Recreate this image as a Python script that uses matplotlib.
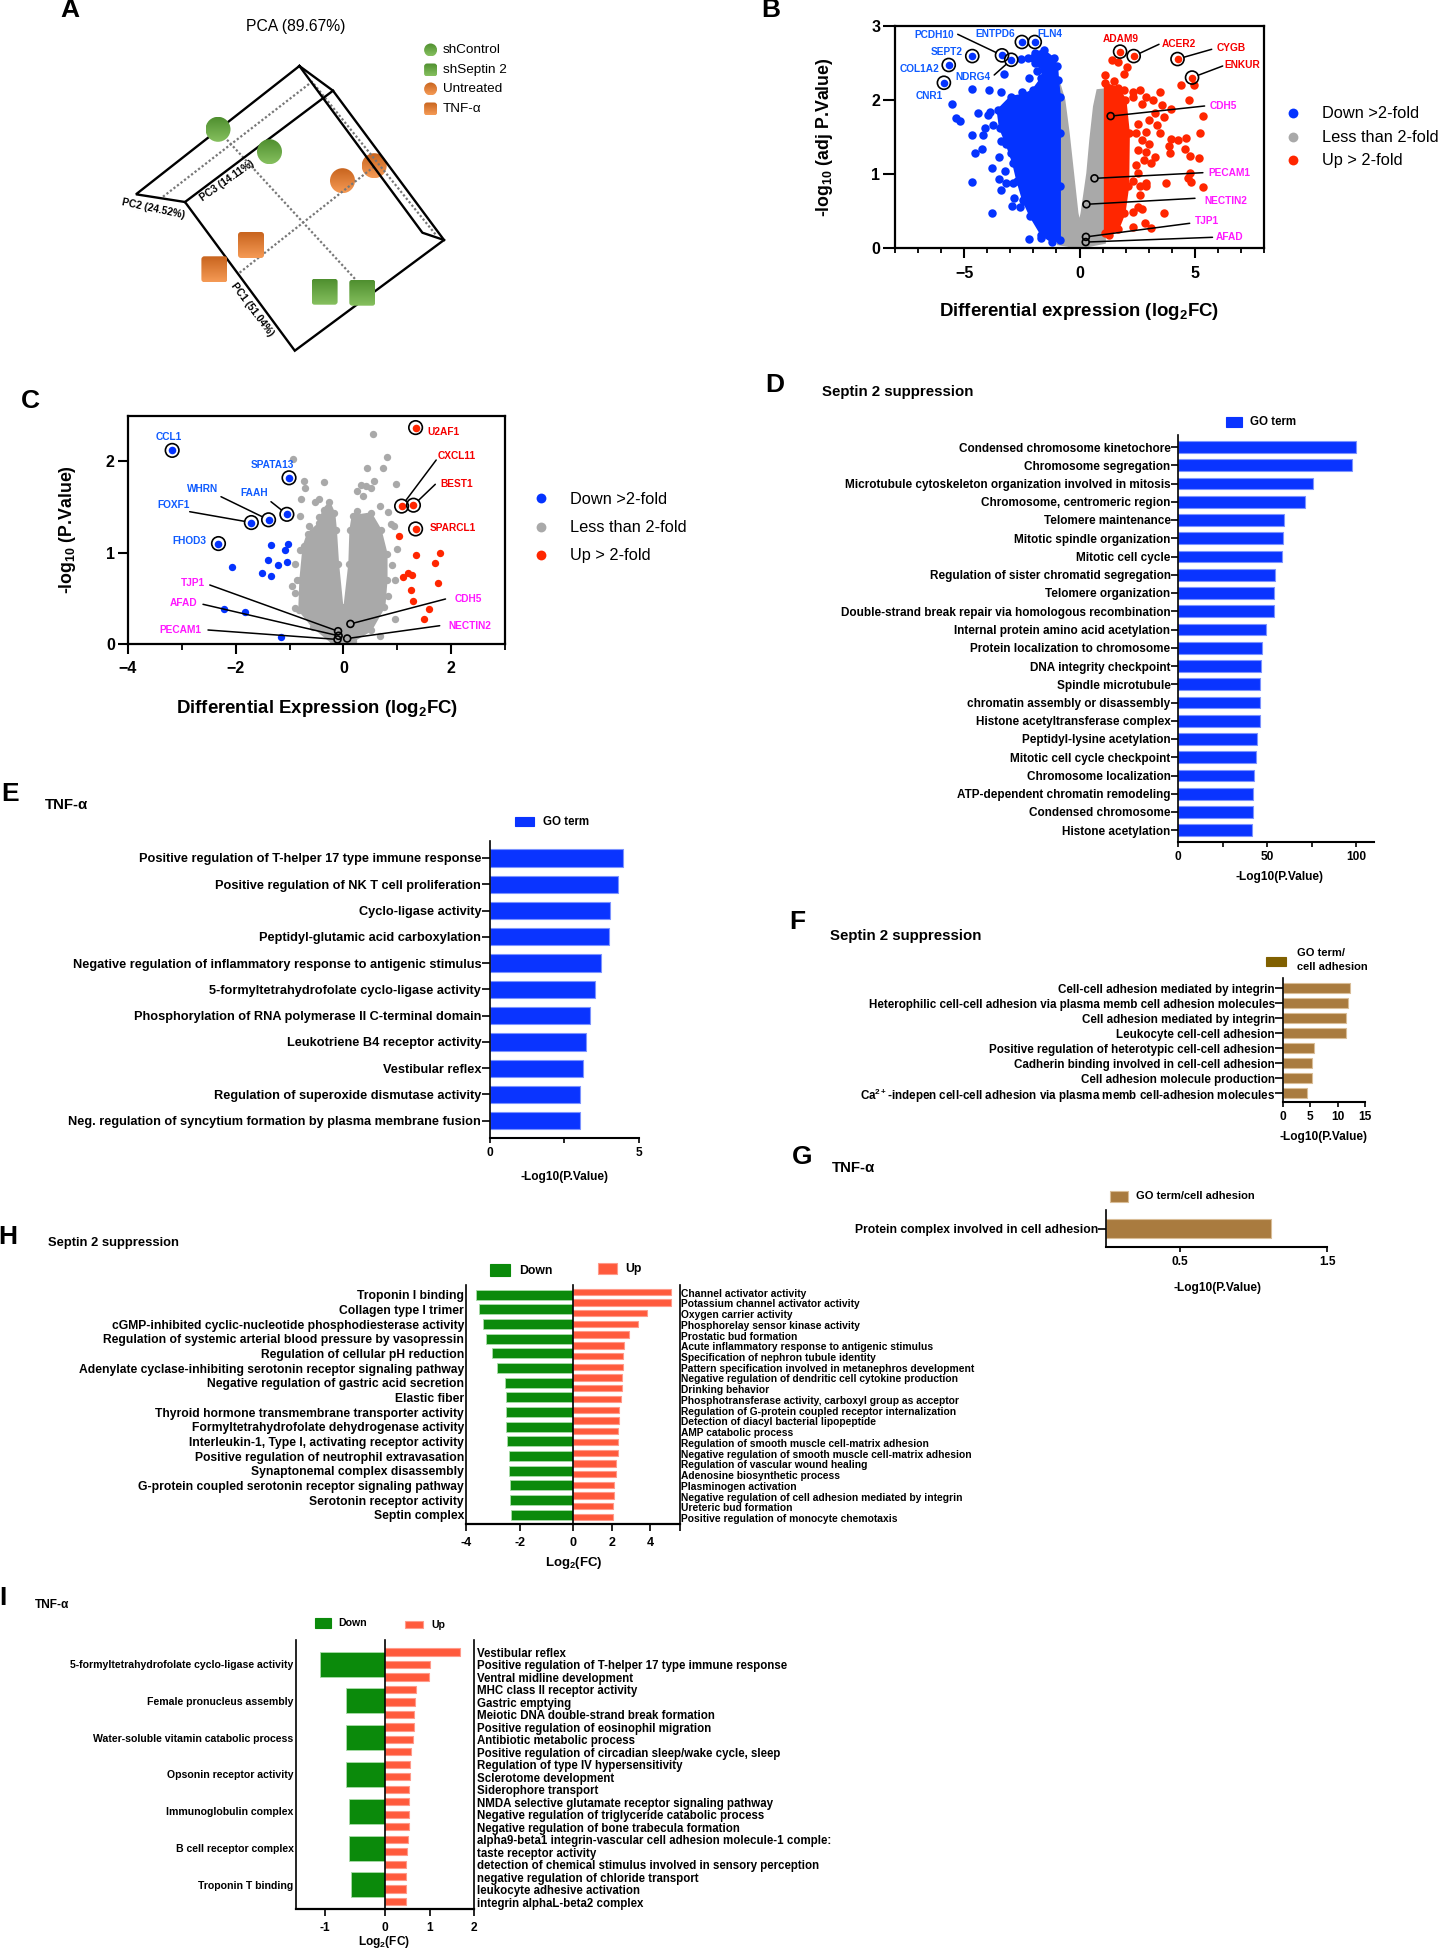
#!/usr/bin/env python3
"""Multi panel figure: PCA, two volcano plots and GO term bar charts."""

import matplotlib
matplotlib.use('Agg')
import matplotlib.pyplot as plt
import numpy as np
from matplotlib.colors import LinearSegmentedColormap
from matplotlib.patches import Circle, FancyBboxPatch, Rectangle

plt.rcParams['font.family'] = ['Liberation Sans', 'DejaVu Sans']
plt.rcParams['mathtext.fontset'] = 'custom'
plt.rcParams['mathtext.rm'] = 'Liberation Sans'
plt.rcParams['mathtext.bf'] = 'Liberation Sans:bold'
plt.rcParams['mathtext.it'] = 'Liberation Sans:italic'

W, H = 1449, 1950
BLUE = '#0433FF'
RED = '#FF2600'
GRAY = '#A9A9A9'
BAR_BLUE = '#0A34FF'
BROWN = '#A97B3F'
GREEN = '#0B8A0B'
SALMON = '#FF5A3C'
LABEL_BLUE = '#0F5BFF'
LABEL_RED = '#F50000'
MAGENTA = '#FF19FF'

# ---- panel A, PCA scores as placed on the projected box
PCA_CIRCLE_GREEN_X = [218, 269.5]
PCA_CIRCLE_GREEN_Y = [129.3, 151.7]
PCA_CIRCLE_ORANGE_X = [342.5, 374.2]
PCA_CIRCLE_ORANGE_Y = [180.7, 165.7]
PCA_SQUARE_ORANGE_X = [251, 214.4]
PCA_SQUARE_ORANGE_Y = [245, 269.3]
PCA_SQUARE_GREEN_X = [324.6, 362.3]
PCA_SQUARE_GREEN_Y = [291.7, 292.7]
PCA_BOX_X = [299.4, 136, 185, 294.8, 444, 333, 299.4]
PCA_BOX_Y = [66, 194.3, 202, 350.7, 240, 90.7, 66]
PCA_INNER_X = [[333, 185], [299.4, 422.4, 444]]
PCA_INNER_Y = [[90.7, 202], [66, 232.7, 240]]
PCA_DOTTED_X = [[163, 312, 436], [218, 356], [374, 238.8]]
PCA_DOTTED_Y = [[196.7, 81.7, 235], [130, 280], [166.7, 273.3]]
PCA_LEGEND = ['shControl', 'shSeptin 2', 'Untreated', 'TNF-α']

# ---- panel B, volcano
B_BLUE_CORE_X = [-1.56, -1.12, -0.97, -0.93, -0.85, -0.85, -0.85, -0.85, -1.18, -1.65, -2.13, -2.45, -2.69,
                 -2.88, -3.17, -3.45, -3.55, -2.98, -2.41, -2.03, -1.65, -1.56, -1.94, -2.22, -1.94]
B_BLUE_CORE_Y = [2.67, 2.56, 2.45, 2.27, 2.04, 1.55, 0.83, 0.11, 0.08, 0.18, 0.43, 0.65, 0.90,
                 1.15, 1.41, 1.62, 1.86, 2.04, 2.07, 2.13, 2.29, 2.40, 2.49, 2.56, 2.63]
B_BLUE_X = [-2.52, -3.26, -4.65, -3.91, -3.42, -2.18, -1.84, -2.50, -5.52, -5.35, -5.20, -4.40, -3.89, -3.97,
            -4.08, -3.74, -4.65, -4.17, -4.23, -4.52, -3.80, -3.23, -3.47, -4.67, -3.49, -3.17, -3.42, -2.85,
            -2.94, -3.80, -2.60, -2.18, -1.65, -2.88, -2.60, -2.98, -3.40, -2.41]
B_BLUE_Y = [2.55, 2.35, 2.14, 2.13, 2.11, 2.29, 2.39, 2.11, 1.94, 1.76, 1.71, 1.82, 1.84, 1.80,
            1.62, 1.66, 1.52, 1.52, 1.34, 1.28, 1.08, 1.04, 1.23, 0.89, 0.93, 0.88, 0.78, 0.68,
            0.57, 0.47, 0.56, 0.12, 0.13, 0.88, 1.08, 1.28, 1.44, 0.63]
B_RED_CORE_X = [1.10, 1.67, 1.99, 2.14, 2.11, 1.95, 1.67, 1.29, 1.10]
B_RED_CORE_Y = [2.22, 2.16, 2.00, 1.55, 0.83, 0.47, 0.25, 0.18, 0.20]
B_RED_X = [4.42, 4.95, 2.05, 1.92, 1.39, 1.67, 1.10, 1.48, 1.92, 2.30, 2.62, 2.30, 3.51, 2.90, 3.19, 2.71, 3.57,
           3.95, 4.74, 5.35, 3.28, 3.66, 3.00, 2.52, 3.38, 2.90, 2.43, 3.47, 2.71, 3.98, 4.29, 4.61, 3.87, 4.57,
           5.22, 3.00, 2.52, 2.90, 3.93, 4.78, 5.20, 3.28, 2.81, 2.43, 3.09, 2.52, 4.80, 4.71, 4.84, 5.35, 3.74,
           2.90, 2.62, 2.33, 2.90, 2.62, 2.52, 2.71, 2.33, 3.68, 2.83, 3.09, 2.33]
B_RED_Y = [2.20, 2.20, 2.44, 2.35, 2.54, 2.51, 2.33, 2.25, 2.13, 2.10, 2.13, 2.04, 2.11, 2.04, 2.00, 1.95, 1.93,
           1.87, 2.00, 1.78, 1.82, 1.77, 1.73, 1.68, 1.66, 1.57, 1.55, 1.55, 1.46, 1.47, 1.46, 1.48, 1.37, 1.34,
           1.55, 1.41, 1.32, 1.30, 1.28, 1.24, 1.22, 1.23, 1.19, 1.12, 1.15, 1.01, 1.01, 0.94, 0.89, 0.82, 0.88,
           0.88, 0.83, 0.90, 0.83, 0.72, 0.56, 0.52, 0.49, 0.47, 0.34, 0.27, 0.29]
B_GRAY_CORE_X = [-0.93, -0.66, -0.47, -0.28, -0.09, 0, 0.09, 0.34, 0.47, 0.63, 0.78, 1.10, 1.10, 0.44, 0, -0.51, -0.93]
B_GRAY_CORE_Y = [2.28, 2.00, 1.55, 1.01, 0.47, 0.34, 0.47, 1.01, 1.46, 1.91, 2.13, 2.14, 0.07, 0.03, 0, 0.03, 0.05]
B_GENES = ['PCDH10', 'ENTPD6', 'FLN4', 'SEPT2', 'COL1A2', 'NDRG4', 'CNR1', 'ADAM9', 'ACER2', 'CYGB', 'ENKUR',
           'CDH5', 'PECAM1', 'NECTIN2', 'TJP1', 'AFAD']
B_GENE_X = [-3.36, -2.50, -1.94, -4.65, -5.67, -2.96, -5.88, 1.76, 2.35, 4.25, 4.88, 1.35, 0.65, 0.30, 0.28, 0.27]
B_GENE_Y = [2.60, 2.78, 2.78, 2.59, 2.47, 2.54, 2.23, 2.65, 2.59, 2.55, 2.30, 1.78, 0.94, 0.59, 0.15, 0.08]
B_GENE_COLOR = ['b'] * 7 + ['r'] * 4 + ['m'] * 5
B_LABEL_X = [934, 995.5, 1050, 947, 919.5, 972.7, 929, 1121, 1178.7, 1231.4, 1242.4, 1223.5, 1229, 1225.7, 1206.8, 1230]
B_LABEL_Y = [34.7, 34, 34, 52.3, 69, 76.7, 96, 39.3, 44, 47.7, 65, 105.7, 172.7, 200.7, 221.3, 236.7]
B_LEADER_X = [957.7, None, None, None, None, 994.2, None, None, 1159, 1211.7, 1222.7, 1204.6, 1202.9, 1195, 1189.7, 1212.5]
B_LEADER_Y = [34.3, None, None, None, None, 75, None, None, 44.3, 49.3, 66, 106, 172.7, 198.3, 223.3, 237.3]

# ---- panel C, volcano
C_BLUE_X = [-1.34, -1.03, -1.08, -1.40, -1.05, -1.21, -2.07, -1.51, -1.35, -2.22, -1.83, -1.16]
C_BLUE_Y = [1.08, 1.09, 1.03, 0.92, 0.90, 0.86, 0.84, 0.78, 0.74, 0.38, 0.35, 0.08]
C_RED_X = [1.03, 1.34, 1.80, 1.70, 1.11, 1.19, 1.28, 1.76, 1.25, 1.29, 1.59, 1.49]
C_RED_Y = [1.18, 0.97, 1.00, 0.89, 0.73, 0.78, 0.76, 0.67, 0.59, 0.47, 0.38, 0.27]
C_GRAY_X = [0.55, 0.80, 0.43, 0.74, 0.56, -0.94, -0.74, -0.37, -0.71, 0.97, 0.32, 0.26, 0.36, 0.52, 0.41, -0.78,
            -0.53, -0.45, 0.67, 0.26, 0.82, -0.80, -0.46, 0.89, 0.94, -0.64, 0.99, 0.90, 0.95, 0.95, 0.67, 0.82,
            -0.89, -0.80, -0.86, -0.95, -0.90, -0.90]
C_GRAY_Y = [2.30, 2.05, 1.93, 1.93, 1.79, 2.03, 1.79, 1.77, 1.71, 1.75, 1.74, 1.67, 1.62, 1.71, 1.73, 1.59,
            1.56, 1.59, 1.51, 1.46, 1.44, 1.40, 1.39, 1.31, 1.29, 1.29, 1.04, 0.86, 0.70, 0.27, 0.09, 0.53,
            0.88, 1.03, 0.70, 0.63, 0.56, 0.39]
C_GRAY_CORE_X = [-0.26, -0.17, -0.14, -0.10, -0.02, 0.02, 0.11, 0.13, 0.17, 0.51, 0.69, 0.80, 0.80, 0.76, 0.51, 0.17,
                 0, -0.20, -0.57, -0.82, -0.80, -0.74, -0.66, -0.45, -0.37]
C_GRAY_CORE_Y = [1.55, 1.43, 1.25, 0.88, 0.41, 0.41, 0.88, 1.25, 1.40, 1.43, 1.25, 0.99, 0.70, 0.41, 0.15, 0.03,
                 0, 0.01, 0.19, 0.37, 0.70, 1.07, 1.21, 1.32, 1.47]
C_GENES = ['CCL1', 'SPATA13', 'WHRN', 'FAAH', 'FOXF1', 'FHOD3', 'U2AF1', 'CXCL11', 'BEST1', 'SPARCL1',
           'TJP1', 'AFAD', 'PECAM1', 'CDH5', 'NECTIN2']
C_GENE_X = [-3.18, -1.01, -1.39, -1.05, -1.71, -2.32, 1.34, 1.08, 1.30, 1.34, -0.10, -0.09, -0.11, 0.13, 0.07]
C_GENE_Y = [2.12, 1.82, 1.36, 1.42, 1.33, 1.10, 2.37, 1.51, 1.52, 1.26, 0.14, 0.09, 0.05, 0.22, 0.06]
C_GENE_COLOR = ['b'] * 6 + ['r'] * 4 + ['m'] * 5
C_LABEL_X = [168.8, 272.3, 203, 254.5, 173.7, 189.7, 443.3, 457, 456.7, 453, 193.3, 184, 180.4, 467.9, 470]
C_LABEL_Y = [437, 464.7, 489.3, 492.7, 505.3, 541.3, 432.3, 456, 484.3, 528.3, 583.3, 603, 630.3, 599.3, 626]
C_LEADER_X = [None, None, 221, 271, 189.7, None, None, 436.2, 435.3, None, 209.8, 203, 208, 445.5, 439.7]
C_LEADER_Y = [None, None, 496.7, 501.7, 511.7, None, None, 460, 484.3, None, 585, 604.3, 630, 599, 625.7]

VOLCANO_LEGEND_B = ['Down >2-fold', 'Less than 2-fold', 'Up > 2-fold']

# ---- panel D
D_TERMS = ['Condensed chromosome kinetochore', 'Chromosome segregation',
           'Microtubule cytoskeleton organization involved in mitosis', 'Chromosome, centromeric region',
           'Telomere maintenance', 'Mitotic spindle organization', 'Mitotic cell cycle',
           'Regulation of sister chromatid segregation', 'Telomere organization',
           'Double-strand break repair via homologous recombination', 'Internal protein amino acid acetylation',
           'Protein localization to chromosome', 'DNA integrity checkpoint', 'Spindle microtubule',
           'chromatin assembly or disassembly', 'Histone acetyltransferase complex', 'Peptidyl-lysine acetylation',
           'Mitotic cell cycle checkpoint', 'Chromosome localization', 'ATP-dependent chromatin remodeling',
           'Condensed chromosome', 'Histone acetylation']
D_VALUES = [100, 97.6, 75.7, 71.4, 59.7, 59.2, 58.5, 54.7, 53.9, 53.7, 49.2, 47, 46.5, 46, 45.8, 45.8, 44.2, 43.9,
            42.7, 42.2, 42.2, 41.5]

# ---- panel E
E_TERMS = ['Positive regulation of T-helper 17 type immune response', 'Positive regulation of NK T cell proliferation',
           'Cyclo-ligase activity', 'Peptidyl-glutamic acid carboxylation',
           'Negative regulation of inflammatory response to antigenic stimulus',
           '5-formyltetrahydrofolate cyclo-ligase activity', 'Phosphorylation of RNA polymerase II C-terminal domain',
           'Leukotriene B4 receptor activity', 'Vestibular reflex', 'Regulation of superoxide dismutase activity',
           'Neg. regulation of syncytium formation by plasma membrane fusion']
E_VALUES = [4.48, 4.28, 4.04, 4.0, 3.72, 3.51, 3.36, 3.24, 3.13, 3.04, 3.01]

# ---- panel F
F_TERMS = ['Cell-cell adhesion mediated by integrin',
           'Heterophilic cell-cell adhesion via plasma memb cell adhesion molecules',
           'Cell adhesion mediated by integrin', 'Leukocyte cell-cell adhesion',
           'Positive regulation of heterotypic cell-cell adhesion', 'Cadherin binding involved in cell-cell adhesion',
           'Cell adhesion molecule production',
           r'Ca$^{\mathbf{2+}}$-indepen cell-cell adhesion via plasma memb cell-adhesion molecules']
F_VALUES = [12.35, 11.9, 11.6, 11.5, 5.67, 5.36, 5.28, 4.5]

# ---- panel G
G_TERMS = ['Protein complex involved in cell adhesion']
G_VALUES = [1.118]

# ---- panel H
H_DOWN_TERMS = ['Troponin I binding', 'Collagen type I trimer', 'cGMP-inhibited cyclic-nucleotide phosphodiesterase activity',
                'Regulation of systemic arterial blood pressure by vasopressin', 'Regulation of cellular pH reduction',
                'Adenylate cyclase-inhibiting serotonin receptor signaling pathway',
                'Negative regulation of gastric acid secretion', 'Elastic fiber',
                'Thyroid hormone transmembrane transporter activity', 'Formyltetrahydrofolate dehydrogenase activity',
                'Interleukin-1, Type I, activating receptor activity', 'Positive regulation of neutrophil extravasation',
                'Synaptonemal complex disassembly', 'G-protein coupled serotonin receptor signaling pathway',
                'Serotonin receptor activity', 'Septin complex']
H_DOWN_VALUES = [-3.66, -3.52, -3.37, -3.25, -3.05, -2.84, -2.57, -2.52, -2.52, -2.5, -2.47, -2.42, -2.42, -2.38, -2.35, -2.33]
H_UP_TERMS = ['Channel activator activity', 'Potassium channel activator activity', 'Oxygen carrier activity',
              'Phosphorelay sensor kinase activity', 'Prostatic bud formation',
              'Acute inflammatory response to antigenic stimulus', 'Specification of nephron tubule identity',
              'Pattern specification involved in metanephros development',
              'Negative regulation of dendritic cell cytokine production', 'Drinking behavior',
              'Phosphotransferase activity, carboxyl group as acceptor',
              'Regulation of G-protein coupled receptor internalization', 'Detection of diacyl bacterial lipopeptide',
              'AMP catabolic process', 'Regulation of smooth muscle cell-matrix adhesion',
              'Negative regulation of smooth muscle cell-matrix adhesion', 'Regulation of vascular wound healing',
              'Adenosine biosynthetic process', 'Plasminogen activation',
              'Negative regulation of cell adhesion mediated by integrin', 'Ureteric bud formation',
              'Positive regulation of monocyte chemotaxis']
H_UP_VALUES = [5.07, 5.07, 3.8, 3.37, 2.9, 2.63, 2.57, 2.57, 2.53, 2.53, 2.5, 2.37, 2.37, 2.33, 2.3, 2.3, 2.23, 2.23,
               2.13, 2.13, 2.07, 2.07]

# ---- panel I
I_DOWN_TERMS = ['5-formyltetrahydrofolate cyclo-ligase activity', 'Female pronucleus assembly',
                'Water-soluble vitamin catabolic process', 'Opsonin receptor activity', 'Immunoglobulin complex',
                'B cell receptor complex', 'Troponin T binding']
I_DOWN_VALUES = [-1.08, -0.65, -0.64, -0.64, -0.6, -0.6, -0.56]
I_UP_TERMS = ['Vestibular reflex', 'Positive regulation of T-helper 17 type immune response', 'Ventral midline development',
              'MHC class II receptor activity', 'Gastric emptying', 'Meiotic DNA double-strand break formation',
              'Positive regulation of eosinophil migration', 'Antibiotic metabolic process',
              'Positive regulation of circadian sleep/wake cycle, sleep', 'Regulation of type IV hypersensitivity',
              'Sclerotome development', 'Siderophore transport', 'NMDA selective glutamate receptor signaling pathway',
              'Negative regulation of triglyceride catabolic process', 'Negative regulation of bone trabecula formation',
              'alpha9-beta1 integrin-vascular cell adhesion molecule-1 comple:', 'taste receptor activity',
              'detection of chemical stimulus involved in sensory perception', 'negative regulation of chloride transport',
              'leukocyte adhesive activation', 'integrin alphaL-beta2 complex']
I_UP_VALUES = [1.69, 1.02, 0.99, 0.70, 0.68, 0.65, 0.65, 0.62, 0.58, 0.57, 0.56, 0.54, 0.54, 0.53, 0.53, 0.51, 0.49,
               0.48, 0.48, 0.47, 0.47]

fig = plt.figure(figsize=(W / 100, H / 100), dpi=100, facecolor='white')


def px_axes(left, top, right, bottom):
    """Axes placed by its pixel box on the figure."""
    return fig.add_axes([left / W, 1 - bottom / H, (right - left) / W, (bottom - top) / H])


# overlay in figure pixels for free text, legends and the PCA box
ov = fig.add_axes([0, 0, 1, 1], zorder=10)
ov.patch.set_alpha(0)
ov.axis('off')


def put(x, y, s, size, weight='bold', ha='left', color='black', **kw):
    ov.text(x, y, s, fontsize=size, fontweight=weight, ha=ha, va='center', color=color, **kw)


def gradient_marker(x, y, half, kind, top_color, bottom_color, zorder):
    cmap = LinearSegmentedColormap.from_list('m', [top_color, bottom_color])
    grad = np.linspace(0, 1, 64).reshape(-1, 1)
    im = ov.imshow(grad, cmap=cmap, extent=(x - half, x + half, y + half, y - half), aspect='auto', zorder=zorder)
    if kind == 'circle':
        clip = Circle((x, y), half, transform=ov.transData)
    else:
        clip = FancyBboxPatch((x - half + 1, y - half + 1), 2 * half - 2, 2 * half - 2,
                              boxstyle='round,pad=1,rounding_size=3', transform=ov.transData)
    im.set_clip_path(clip)


def draw_pca():
    green = ('#4F8F2F', '#86C05F')
    orange = ('#C8641E', '#F59A55')
    for x, y in zip(PCA_CIRCLE_ORANGE_X, PCA_CIRCLE_ORANGE_Y):
        gradient_marker(x, y, 12.5, 'circle', *orange, zorder=1)
    for xs, ys in zip(PCA_DOTTED_X, PCA_DOTTED_Y):
        ov.plot(xs, ys, color='#777777', lw=1.6, ls=(0, (1, 1)), zorder=2)
    ov.plot(PCA_BOX_X, PCA_BOX_Y, color='black', lw=1.7, zorder=3, solid_joinstyle='miter')
    for xs, ys in zip(PCA_INNER_X, PCA_INNER_Y):
        ov.plot(xs, ys, color='black', lw=1.7, zorder=3)
    for x, y in zip(PCA_CIRCLE_GREEN_X, PCA_CIRCLE_GREEN_Y):
        gradient_marker(x, y, 12.5, 'circle', *green, zorder=4)
    for x, y in zip(PCA_SQUARE_ORANGE_X, PCA_SQUARE_ORANGE_Y):
        gradient_marker(x, y, 13, 'square', *orange, zorder=4)
    for x, y in zip(PCA_SQUARE_GREEN_X, PCA_SQUARE_GREEN_Y):
        gradient_marker(x, y, 13, 'square', *green, zorder=4)

    put(296, 26, 'PCA (89.67%)', 11.3, weight='normal', ha='center')
    put(153, 209, 'PC2 (24.52%)', 7.4, ha='center', rotation=-12, rotation_mode='anchor')
    put(227, 181, 'PC3 (14.11%)', 7.4, ha='center', rotation=35, rotation_mode='anchor')
    put(252, 310, 'PC1 (51.04%)', 7.4, ha='center', rotation=-53, rotation_mode='anchor')
    legend_y = [50, 70, 89, 109]
    kinds = [('circle', green), ('square', green), ('circle', orange), ('square', orange)]
    for y, name, (kind, colors) in zip(legend_y, PCA_LEGEND, kinds):
        gradient_marker(430.6, y, 6.5, kind, *colors, zorder=4)
        put(443, y, name, 9.7, weight='normal')


def draw_genes(ax, names, gx, gy, colors, lx, ly, leadx, leady, font, ring, small_ring):
    palette = {'b': LABEL_BLUE, 'r': LABEL_RED, 'm': MAGENTA}
    fill = {'b': BLUE, 'r': RED}
    for i, name in enumerate(names):
        c = colors[i]
        if c in fill:
            ax.scatter([gx[i]], [gy[i]], s=30, color=fill[c], zorder=5, linewidths=0)
        size = small_ring if c == 'm' else ring
        ax.scatter([gx[i]], [gy[i]], s=size, facecolors='none', edgecolors='black', linewidths=1.2, zorder=6)
        put(lx[i], ly[i], name, font, ha='center', color=palette[c])
        if leadx[i] is not None:
            ov.annotate('', xy=(gx[i], gy[i]), xycoords=ax.transData, xytext=(leadx[i], leady[i]),
                        textcoords=ov.transData,
                        arrowprops=dict(arrowstyle='-', color='black', lw=1.1, shrinkA=0,
                                        shrinkB=np.sqrt(size) / 2))


def style_volcano(ax):
    for s in ['top', 'right', 'left', 'bottom']:
        ax.spines[s].set_linewidth(1.6)
    ax.tick_params(axis='both', which='major', width=1.5, labelsize=11.5)
    ax.tick_params(axis='both', which='minor', width=1.3)
    for t in ax.get_xticklabels() + ax.get_yticklabels():
        t.set_fontweight('bold')


def volcano_legend(x_mark, x_text, ys, size):
    for y, name, c in zip(ys, VOLCANO_LEGEND_B, [BLUE, GRAY, RED]):
        ov.scatter([x_mark], [y], s=size, color=c, linewidths=0)
        put(x_text, y + 0.7, name, 11.8, weight='normal')


def draw_volcano_b():
    ax = px_axes(895, 25.7, 1264, 248)
    ax.set_xlim(-8, 8)
    ax.set_ylim(0, 3)
    ax.fill(B_GRAY_CORE_X, B_GRAY_CORE_Y, color=GRAY, lw=1.5, zorder=1)
    ax.fill(B_BLUE_CORE_X, B_BLUE_CORE_Y, color=BLUE, lw=1.5, zorder=2)
    ax.fill(B_RED_CORE_X, B_RED_CORE_Y, color=RED, lw=1.5, zorder=2)
    ax.scatter(B_BLUE_CORE_X, B_BLUE_CORE_Y, s=37, color=BLUE, linewidths=0, zorder=3)
    ax.scatter(B_BLUE_X, B_BLUE_Y, s=37, color=BLUE, linewidths=0, zorder=3)
    ax.scatter(B_RED_CORE_X, B_RED_CORE_Y, s=37, color=RED, linewidths=0, zorder=3)
    ax.scatter(B_RED_X, B_RED_Y, s=37, color=RED, linewidths=0, zorder=3)
    ax.set_xticks([-5, 0, 5])
    ax.set_xticks(list(range(-8, 9)), minor=True)
    ax.set_yticks([0, 1, 2, 3])
    ax.tick_params(axis='x', which='major', length=7.2, pad=6)
    ax.tick_params(axis='x', which='minor', length=3.6)
    ax.tick_params(axis='y', which='major', length=8.5, pad=2)
    style_volcano(ax)
    draw_genes(ax, B_GENES, B_GENE_X, B_GENE_Y, B_GENE_COLOR, B_LABEL_X, B_LABEL_Y, B_LEADER_X, B_LEADER_Y,
               7.3, 88, 25)
    put(1079.4, 312, r'Differential expression (log$_{\mathbf{2}}$FC)', 13.4, ha='center')
    put(824.6, 137, r'-log$_{\mathbf{10}}$ (adj P.Value)', 12.8, ha='center', rotation=90, rotation_mode='anchor')
    volcano_legend(1293, 1321.5, [112.7, 137, 160], 50)


def draw_volcano_c():
    ax = px_axes(128, 415.7, 505, 644)
    ax.set_xlim(-4, 3)
    ax.set_ylim(0, 2.5)
    ax.fill(C_GRAY_CORE_X, C_GRAY_CORE_Y, color=GRAY, lw=1.5, zorder=1)
    ax.scatter(C_GRAY_CORE_X, C_GRAY_CORE_Y, s=28, color=GRAY, linewidths=0, zorder=1)
    ax.scatter(C_GRAY_X, C_GRAY_Y, s=28, color=GRAY, linewidths=0, zorder=1)
    ax.scatter(C_BLUE_X, C_BLUE_Y, s=28, color=BLUE, linewidths=0, zorder=3)
    ax.scatter(C_RED_X, C_RED_Y, s=28, color=RED, linewidths=0, zorder=3)
    ax.set_xticks([-4, -2, 0, 2])
    ax.set_xticks(list(range(-4, 4)), minor=True)
    ax.set_yticks([0, 1, 2])
    ax.tick_params(axis='x', which='major', length=7, pad=5)
    ax.tick_params(axis='x', which='minor', length=4)
    ax.tick_params(axis='y', which='major', length=7.5, pad=2)
    style_volcano(ax)
    draw_genes(ax, C_GENES, C_GENE_X, C_GENE_Y, C_GENE_COLOR, C_LABEL_X, C_LABEL_Y, C_LEADER_X, C_LEADER_Y,
               7.3, 95, 25)
    put(317, 708.3, r'Differential Expression (log$_{\mathbf{2}}$FC)', 13.4, ha='center')
    put(67, 530, r'-log$_{\mathbf{10}}$ (P.Value)', 12.8, ha='center', rotation=90, rotation_mode='anchor')
    volcano_legend(541, 570, [498.3, 526.7, 555], 50)


def term_bars(box, first, spacing, height, terms, values, xlim, ticks, labels, color, edge, font, tick_px, tick_font):
    """Horizontal bar chart with its bars placed from a first centre and spacing, in pixels."""
    left, top, right, bottom = box
    ax = px_axes(left, top, right, bottom)
    ypos = list(range(len(terms)))
    ax.barh(ypos, values, height=height / spacing, color=color, edgecolor=edge, linewidth=0.8, zorder=2)
    ax.set_xlim(*xlim)
    ax.set_ylim((bottom - first) / spacing, (top - first) / spacing)
    ax.spines['top'].set_visible(False)
    ax.spines['right'].set_visible(False)
    ax.spines['left'].set_linewidth(1.2)
    ax.spines['bottom'].set_linewidth(1.5)
    ax.set_yticks(ypos)
    ax.set_yticklabels(terms, fontsize=font, fontweight='bold')
    ax.tick_params(axis='y', length=tick_px * 0.72, width=1.2, pad=0)
    ax.set_xticks(ticks)
    ax.set_xticklabels(labels, fontsize=tick_font, fontweight='bold')
    ax.tick_params(axis='x', length=3.6, width=1.2, pad=3)
    return ax


def swatch(x0, y0, x1, y1, color, edge=None):
    ov.add_patch(Rectangle((x0, y0), x1 - x0, y1 - y0, facecolor=color, edgecolor=edge or color, linewidth=0.8))


def draw_go_panels():
    term_bars((1178, 435, 1374, 842.3), 447, 18.25, 11.7, D_TERMS, D_VALUES, (0, 110),
              [0, 25, 50, 75, 100], ['0', '', '50', '', '100'], BAR_BLUE, '#7C93FF', 8.5, 7.5, 8.6)
    swatch(1225.7, 416.7, 1242.4, 426.7, BAR_BLUE)
    put(1250, 421.7, 'GO term', 8.3)
    put(1280, 877, '-Log10(P.Value)', 8.6, ha='center')
    put(821.5, 391.7, 'Septin 2 suppression', 10.8)

    term_bars((489.7, 840.7, 639, 1137.7), 858, 26.27, 17.3, E_TERMS, E_VALUES, (0, 5),
              [0, 2.5, 5], ['0', '', '5'], BAR_BLUE, '#7C93FF', 9.2, 8.5, 8.6)
    swatch(514.7, 816.7, 534.4, 826, BAR_BLUE)
    put(543, 821.7, 'GO term', 8.3)
    put(564.7, 1176.7, '-Log10(P.Value)', 8.6, ha='center')
    put(44.6, 805, 'TNF-α', 10.8)

    term_bars((1282.6, 978.3, 1365, 1102.3), 988.3, 15, 10, F_TERMS, F_VALUES, (0, 15),
              [0, 5, 10, 15], ['0', '5', '10', '15'], BROWN, '#D9BD97', 8.4, 7.7, 8.6)
    swatch(1266.3, 956.7, 1285.5, 966, '#806000')
    put(1297, 952.7, 'GO term/', 8.0)
    put(1297, 966.7, 'cell adhesion', 8.0)
    put(1324, 1136.7, '-Log10(P.Value)', 8.6, ha='center')
    put(830, 935.7, 'Septin 2 suppression', 10.8)

    term_bars((1106, 1210, 1327, 1246.7), 1228.5, 30, 18.4, G_TERMS, G_VALUES, (0, 1.5),
              [0.5, 1.5], ['0.5', '1.5'], BROWN, '#D9BD97', 8.7, 7.7, 8.6)
    swatch(1109.8, 1190.7, 1128, 1201.7, BROWN, '#D9BD97')
    put(1135.8, 1196, 'GO term/cell adhesion', 8.0)
    put(1217, 1288, '-Log10(P.Value)', 8.6, ha='center')
    put(832, 1168, 'TNF-α', 10.8)


def diverging(box_mid, down, up, terms_down, terms_up, xlim_down, xlim_up, ticks_down, ticks_up, up_labels,
              fonts, right_offset):
    left, mid, right, top, bottom = box_mid
    first_d, space_d, height_d, first_u, space_u, height_u = down
    font_down, font_up, font_tick = fonts
    values_down, values_up = up
    ad = px_axes(left, top, mid, bottom)
    au = px_axes(mid, top, right, bottom)

    yd = list(range(len(values_down)))
    ad.barh(yd, values_down, height=height_d / space_d, color=GREEN, edgecolor='#A8DCA8', linewidth=0.6, zorder=2)
    ad.set_xlim(*xlim_down)
    ad.set_ylim((bottom - first_d) / space_d, (top - first_d) / space_d)
    ad.spines['top'].set_visible(False)
    ad.spines['right'].set_visible(False)
    ad.spines['left'].set_linewidth(1.2)
    ad.spines['bottom'].set_linewidth(1.6)
    ad.set_yticks(yd)
    ad.set_yticklabels(terms_down, fontsize=font_down, fontweight='bold')
    ad.tick_params(axis='y', length=0, pad=1.8)
    ad.set_xticks(ticks_down)
    ad.set_xticklabels([str(t) for t in ticks_down], fontsize=font_tick, fontweight='bold')
    ad.tick_params(axis='x', length=5, width=1.2, pad=4)

    yu = list(range(len(values_up)))
    au.barh(yu, values_up, height=height_u / space_u, color=SALMON, edgecolor='#FF9A8A', linewidth=0.8, zorder=2)
    au.set_xlim(*xlim_up)
    au.set_ylim((bottom - first_u) / space_u, (top - first_u) / space_u)
    au.spines['top'].set_visible(False)
    au.spines['left'].set_linewidth(1.2)
    au.spines['right'].set_linewidth(1.2)
    au.spines['bottom'].set_linewidth(1.6)
    au.set_yticks([])
    au.set_xticks(ticks_up)
    au.set_xticklabels(up_labels, fontsize=font_tick, fontweight='bold')
    au.tick_params(axis='x', length=5, width=1.2, pad=4)
    for i, name in enumerate(terms_up):
        au.annotate(name, (1, i), xycoords=au.get_yaxis_transform(), xytext=(right_offset, -1.4),
                    textcoords='offset points', va='center', ha='left', fontsize=font_up, fontweight='bold',
                    annotation_clip=False)


def draw_diverging_panels():
    diverging((466.5, 573, 680, 1285, 1524), (1294.7, 14.67, 10, 1291.7, 10.73, 6.3), (H_DOWN_VALUES, H_UP_VALUES),
              H_DOWN_TERMS, H_UP_TERMS, (-4, 0), (0, 5.53), [-4, -2], [0, 2, 4, 5.53], ['0', '2', '4', ''],
              (8.7, 7.4, 9), 0.8)
    swatch(490, 1264.3, 510, 1276, GREEN)
    put(518.7, 1270.7, 'Down', 8.8)
    swatch(598, 1263.3, 616.6, 1274.3, SALMON, '#FF9A8A')
    put(625, 1269, 'Up', 8.8)
    put(573.5, 1563.3, r'Log$_{\mathbf{2}}$(FC)', 9.5, ha='center')
    put(48, 1243, 'Septin 2 suppression', 9.4)

    diverging((296, 385, 474, 1640, 1909.3), (1664, 36.8, 25, 1652, 12.48, 7.3), (I_DOWN_VALUES, I_UP_VALUES),
              I_DOWN_TERMS, I_UP_TERMS, (-1.475, 0), (0, 2), [-1], [0, 1, 2], ['0', '1', '2'],
              (7.6, 8.3, 8.6), 2.5)
    swatch(315, 1618.3, 331, 1628.3, GREEN)
    put(338.5, 1623, 'Down', 7.6)
    swatch(405, 1621, 423, 1628.3, SALMON, '#FF9A8A')
    put(431.7, 1625, 'Up', 7.6)
    put(384, 1941.7, r'Log$_{\mathbf{2}}$(FC)', 8.6, ha='center')
    put(34.5, 1605, 'TNF-α', 8.6)


def draw_panel_letters():
    letters = ['A', 'B', 'C', 'D', 'E', 'F', 'G', 'H', 'I']
    xs = [70, 771, 30, 775, 10, 797, 802, 8, 3]
    ys = [10, 10, 400.7, 385, 794, 921.7, 1156.7, 1236.7, 1598]
    for letter, x, y in zip(letters, xs, ys):
        put(x, y, letter, 19, ha='center')


draw_pca()
draw_volcano_b()
draw_volcano_c()
draw_go_panels()
draw_diverging_panels()
draw_panel_letters()

ov.set_xlim(0, W)
ov.set_ylim(H, 0)
ov.set_aspect('auto')

fig.savefig('out.png', dpi=100)
print('Saved: out.png')
